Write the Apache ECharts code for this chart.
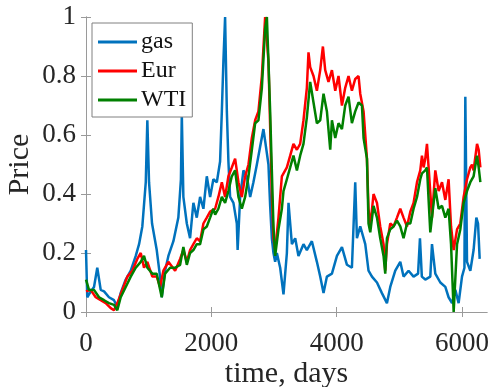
<!DOCTYPE html>
<html><head><meta charset="utf-8">
<script src="https://cdn.jsdelivr.net/npm/echarts@6/dist/echarts.min.js"></script>
<style>html,body{margin:0;padding:0;background:#fff}#c{width:490px;height:387px}</style>
</head><body><div id="c"></div>
<script>
const seriesNames = ['gas', 'Eur', 'WTI'];
const xTicks = [0, 2000, 4000, 6000];
const yTicks = [0, 0.2, 0.4, 0.6, 0.8, 1];

const gasDays = [0,20,48,128,180,235,288,367,447,500,554,634,714,794,847,899,954,979,1006,1054,1129,1182,1209,1262,1315,1395,1474,1515,1529,1554,1609,1661,1714,1768,1821,1874,1928,1981,2033,2088,2140,2168,2193,2220,2248,2273,2300,2353,2407,2420,2460,2513,2567,2620,2672,2727,2779,2832,2859,2912,2939,2966,2992,3019,3046,3099,3152,3206,3232,3259,3286,3339,3391,3471,3525,3605,3685,3738,3791,3845,3925,4005,4085,4165,4244,4297,4324,4377,4457,4509,4564,4644,4723,4803,4856,4936,5016,5068,5148,5228,5300,5330,5360,5415,5495,5522,5575,5655,5735,5787,5842,5895,5947,6001,6040,6054,6081,6134,6186,6230,6257,6283];
const gasVals = [0.21,0.05,0.06,0.085,0.15,0.075,0.07,0.05,0.04,0.017,0.065,0.11,0.14,0.19,0.23,0.29,0.44,0.65,0.44,0.30,0.21,0.12,0.05,0.14,0.19,0.24,0.32,0.45,0.67,0.39,0.30,0.25,0.37,0.32,0.39,0.35,0.46,0.39,0.45,0.44,0.51,0.68,0.85,1.0,0.68,0.51,0.39,0.37,0.30,0.21,0.39,0.48,0.46,0.39,0.44,0.50,0.56,0.62,0.58,0.50,0.36,0.25,0.20,0.17,0.20,0.15,0.06,0.20,0.37,0.30,0.23,0.25,0.19,0.23,0.21,0.24,0.17,0.12,0.064,0.12,0.13,0.19,0.22,0.16,0.15,0.44,0.25,0.29,0.23,0.14,0.12,0.10,0.064,0.03,0.085,0.14,0.17,0.12,0.14,0.12,0.13,0.25,0.12,0.11,0.12,0.23,0.13,0.10,0.085,0.05,0.03,0.075,0.03,0.12,0.15,0.73,0.17,0.14,0.21,0.32,0.30,0.18];

const eurDays = [0,75,155,235,315,395,447,500,580,660,740,819,874,926,979,1059,1129,1182,1235,1315,1422,1502,1554,1609,1661,1714,1768,1821,1874,1928,1981,2061,2113,2168,2220,2273,2327,2380,2433,2487,2540,2593,2647,2700,2752,2807,2859,2887,2912,2939,2966,2992,3019,3072,3126,3152,3206,3259,3311,3366,3418,3471,3525,3551,3578,3631,3685,3738,3781,3818,3870,3925,3978,4030,4085,4137,4190,4244,4297,4350,4377,4430,4484,4509,4537,4589,4644,4696,4749,4776,4803,4856,4909,4963,5016,5068,5123,5176,5228,5283,5335,5362,5388,5415,5442,5468,5522,5575,5628,5682,5735,5787,5826,5868,5922,5974,6027,6081,6134,6161,6186,6241,6267,6294];
const eurVals = [0.07,0.075,0.05,0.04,0.03,0.013,0.006,0.03,0.075,0.12,0.14,0.18,0.20,0.15,0.17,0.12,0.12,0.085,0.14,0.17,0.14,0.18,0.21,0.17,0.21,0.23,0.25,0.24,0.30,0.32,0.34,0.35,0.39,0.44,0.39,0.46,0.49,0.52,0.44,0.39,0.46,0.50,0.59,0.65,0.68,0.80,1.0,1.0,0.85,0.63,0.40,0.25,0.21,0.32,0.46,0.46,0.49,0.53,0.57,0.55,0.57,0.65,0.76,0.88,0.83,0.80,0.75,0.82,0.90,0.82,0.78,0.82,0.75,0.80,0.70,0.76,0.80,0.75,0.79,0.80,0.74,0.68,0.52,0.35,0.29,0.40,0.37,0.29,0.23,0.14,0.23,0.30,0.29,0.32,0.35,0.32,0.29,0.34,0.37,0.44,0.48,0.53,0.49,0.52,0.57,0.49,0.32,0.48,0.41,0.44,0.38,0.45,0.29,0.21,0.28,0.30,0.39,0.45,0.49,0.50,0.48,0.57,0.55,0.49];

const wtiDays = [0,48,128,208,288,367,447,500,554,634,714,794,874,926,979,1059,1129,1209,1262,1342,1422,1502,1554,1609,1661,1714,1768,1821,1874,1928,1981,2033,2061,2113,2168,2220,2273,2327,2380,2433,2487,2540,2593,2647,2700,2752,2807,2859,2887,2912,2939,2966,2992,3019,3072,3126,3152,3206,3259,3311,3366,3418,3471,3525,3578,3631,3685,3738,3791,3845,3898,3925,3978,4030,4085,4137,4190,4244,4297,4350,4404,4430,4484,4509,4537,4589,4644,4696,4749,4776,4803,4856,4909,4963,5016,5068,5123,5176,5228,5283,5335,5362,5415,5442,5468,5495,5575,5628,5682,5735,5787,5826,5868,5922,5974,6027,6081,6134,6186,6241,6267,6294];
const wtiVals = [0.11,0.075,0.075,0.05,0.04,0.03,0.024,0.006,0.05,0.085,0.12,0.15,0.17,0.19,0.15,0.13,0.13,0.05,0.13,0.15,0.15,0.16,0.22,0.16,0.20,0.21,0.23,0.23,0.28,0.29,0.32,0.35,0.33,0.35,0.39,0.37,0.41,0.46,0.48,0.39,0.35,0.39,0.46,0.55,0.64,0.65,0.76,0.96,1.0,0.85,0.68,0.48,0.29,0.19,0.28,0.35,0.41,0.45,0.49,0.53,0.48,0.53,0.57,0.66,0.78,0.71,0.64,0.65,0.74,0.68,0.55,0.65,0.59,0.64,0.62,0.70,0.73,0.64,0.68,0.71,0.70,0.59,0.52,0.30,0.27,0.36,0.32,0.25,0.19,0.13,0.25,0.28,0.29,0.31,0.29,0.25,0.30,0.30,0.35,0.39,0.45,0.47,0.48,0.49,0.38,0.27,0.42,0.35,0.36,0.32,0.35,0.23,0.0,0.23,0.28,0.37,0.41,0.44,0.46,0.53,0.49,0.44];

const colors = ['#0072BD', '#FF0000', '#008000'];
const zip = (a, b) => a.map((d, i) => [d, b[i]]);
const seriesData = [zip(gasDays, gasVals), zip(eurDays, eurVals), zip(wtiDays, wtiVals)];

const FONT = '"Liberation Serif", serif';
const axisGray = '#9a9a9a';
const tickRich = {t: {fontFamily: FONT, fontSize: 27, color: '#262626'}};
const chart = echarts.init(document.getElementById('c'), null, {renderer: 'canvas'});
const baseX = {type: 'value', min: 0, max: 6400, interval: 2000, splitLine: {show: false},
  axisLine: {show: true, lineStyle: {color: axisGray, width: 1}},
  axisTick: {show: true, inside: true, length: 5, lineStyle: {color: axisGray}, customValues: xTicks}};
const baseY = {type: 'value', min: 0, max: 1, interval: 0.2, splitLine: {show: false},
  axisLine: {show: true, lineStyle: {color: axisGray, width: 1}},
  axisTick: {show: true, inside: true, length: 5, lineStyle: {color: axisGray}, customValues: yTicks}};
chart.setOption({
  animation: false,
  backgroundColor: '#fff',
  textStyle: {fontFamily: FONT},
  grid: {left: 86, right: 3, top: 17, bottom: 75, containLabel: false, outerBoundsMode: 'none'},
  legend: {
    orient: 'vertical', left: 92, top: 23,
    data: seriesNames,
    backgroundColor: '#fff', borderColor: '#808080', borderWidth: 1, borderRadius: 0,
    padding: [7, 6, 5, 6], itemGap: 5, itemWidth: 39, itemHeight: 3,
    textStyle: {fontFamily: FONT, fontSize: 24, color: '#111', padding: [0, 0, 0, -1]},
    icon: 'rect'
  },
  xAxis: [
    Object.assign({}, baseX, {position: 'bottom',
      name: 'time, days', nameLocation: 'middle', nameGap: 47, nameMoveOverlap: false,
      nameTextStyle: {fontFamily: FONT, fontSize: 30, color: '#262626'},
      axisLabel: {show: true, margin: 18, fontFamily: FONT, fontSize: 27, color: '#262626',
        customValues: xTicks, formatter: v => '{t|' + String(v) + '}', rich: tickRich}}),
    Object.assign({}, baseX, {position: 'top', axisLabel: {show: false}})
  ],
  yAxis: [
    Object.assign({}, baseY, {position: 'left',
      name: 'Price', nameLocation: 'middle', nameGap: 51, nameMoveOverlap: false,
      nameTextStyle: {fontFamily: FONT, fontSize: 30, color: '#262626'},
      axisLabel: {show: true, margin: 10, fontFamily: FONT, fontSize: 27, color: '#262626',
        customValues: yTicks, formatter: v => '{t|' + String(+(+v).toFixed(1)) + '}', rich: tickRich}}),
    Object.assign({}, baseY, {position: 'right', axisLabel: {show: false}})
  ],
  series: seriesNames.map((n, i) => ({
    name: n, type: 'line', data: seriesData[i], showSymbol: false, symbol: 'none',
    color: colors[i], lineStyle: {color: colors[i], width: 2.5}, itemStyle: {color: colors[i]},
    clip: true, z: 2 + i
  }))
});
</script></body></html>
